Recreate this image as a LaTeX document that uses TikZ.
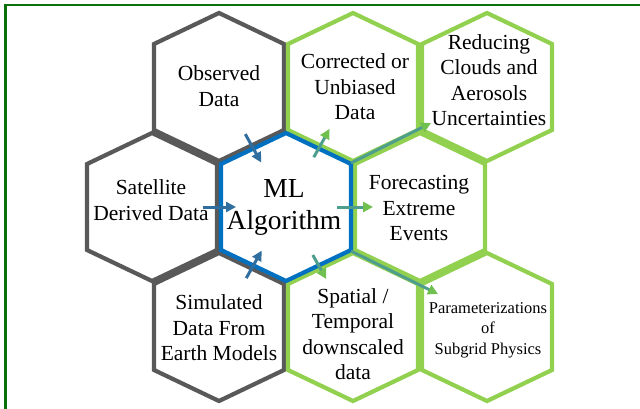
\documentclass[tikz,border=0pt]{standalone}
\usepackage{fontspec}
\setmainfont{Liberation Serif}
\usetikzlibrary{arrows.meta}
\definecolor{hexgray}{HTML}{595959}
\definecolor{hexgreen}{HTML}{92D050}
\definecolor{hexblue}{HTML}{0070C0}
\definecolor{framegreen}{HTML}{0A700A}
\definecolor{inblue}{HTML}{2F6E9E}
\definecolor{outteal}{HTML}{4E9E8E}
\definecolor{outgreen}{HTML}{70C050}
\tikzstyle{hexline}=[line width=4.2pt, line join=miter]
\tikzstyle{hextext}=[align=center, inner sep=0pt, font=\fontsize{21.5}{25.5}\selectfont]
\tikzstyle{inarrow}=[draw=inblue, line width=3pt, -{Triangle[length=10pt,width=10pt]}]
\tikzstyle{outarrow}=[draw=outteal, line width=3pt, -{Triangle[length=10pt,width=10pt,color=outgreen]}]
\begin{document}
\begin{tikzpicture}[x=1pt, y=-1pt]
          \useasboundingbox (0,0) rectangle (640,409);
          \draw[framegreen, line width=2.5pt] (5.5,409) -- (5.5,5) -- (640,5);
          % hex grid centres
          \foreach \h/\x/\y in {obs/219/87, cor/353/87, red/487/87, sat/152/207, ml/286/207, fore/420/207, sim/219/327, spa/353/327, par/487/327}
            \coordinate (h\h) at (\x,\y);
          \foreach \h/\c in {obs/hexgray, sat/hexgray, sim/hexgray, cor/hexgreen, red/hexgreen, fore/hexgreen, spa/hexgreen, par/hexgreen, ml/hexblue}
            \draw[hexline, draw=\c, shift={(h\h)}] (0,-74) -- (65,-43) -- (65,43) -- (0,74) -- (-65,43) -- (-65,-43) -- cycle;
          \node[hextext] (obs) at (219,86) {Observed\\Data};
          \node[hextext] (cor) at (355,87) {Corrected or\\Unbiased\\Data};
          \node[hextext] (red) at (489,80) {Reducing\\Clouds and\\Aerosols\\Uncertainties};
          \node[hextext] (sat) at (151,200) {Satellite\\Derived Data};
          \node[hextext, font=\fontsize{27.5}{32}\selectfont] (ml) at (284,207) {ML\\Algorithm};
          \node[hextext] (fore) at (419,208) {Forecasting\\Extreme\\Events};
          \node[hextext] (sim) at (219,328) {Simulated\\Data From\\Earth Models};
          \node[hextext] (spa) at (353,334) {Spatial /\\Temporal\\downscaled\\data};
          \node[hextext, font=\fontsize{16.5}{20.5}\selectfont] (par) at (488,330) {Parameterizations\\of\\Subgrid Physics};
          \draw[inarrow, shorten <=54pt, shorten >=51pt] (hobs) -- (hml);
          \draw[inarrow, shorten <=51pt, shorten >=50pt] (hsat) -- (hml);
          \draw[inarrow, shorten <=56pt, shorten >=50pt] (hsim) -- (hml);
          \draw[outarrow, shorten <=57pt, shorten >=48pt] (hml) -- (hcor);
          \draw[outarrow, shorten <=51pt, shorten >=47pt] (hml) -- (hfore);
          \draw[outarrow, shorten <=55pt, shorten >=55pt] (hml) -- (hspa);
          \draw[outarrow] ([shift={(65,-44)}]hml) -- ([shift={(-56,36)}]hred);
          \draw[outarrow] ([shift={(65,44)}]hml) -- ([shift={(-49,-33)}]hpar);
        \end{tikzpicture}
\end{document}
